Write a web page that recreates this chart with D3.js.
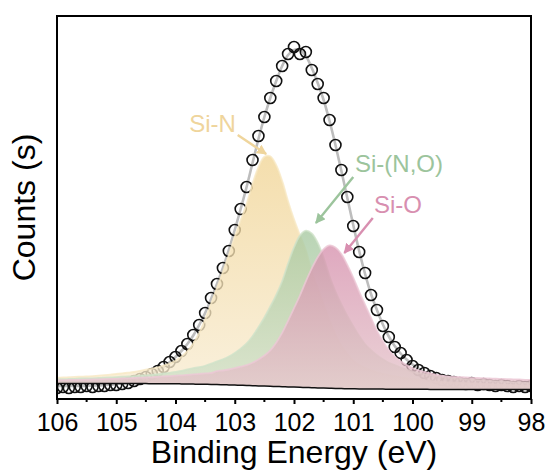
<!DOCTYPE html>
<html>
<head>
<meta charset="utf-8">
<script src="https://cdn.jsdelivr.net/npm/d3@7"></script>
<style>
  html, body { margin: 0; padding: 0; background: #fff; }
  svg { display: block; }
  text { font-family: "Liberation Sans", Arial, sans-serif; }
</style>
</head>
<body>
<div id="chart"></div>
<script>
// Binding energy grid (eV), 106 -> 98 in 0.1 eV steps
const energies = d3.range(0, 81).map(i => +(106 - i * 0.1).toFixed(1));

// Measured counts (arbitrary units)
const counts = [
  11, 12, 11, 12, 12, 13, 12, 13, 13, 14,
  14, 15, 16, 18, 20, 22, 25, 28, 32, 37,
  42, 48, 55, 64, 74, 86, 101, 115, 131, 148,
  169, 190, 212, 239, 263, 282, 301, 318, 333, 345,
  352, 345, 347, 329, 315, 301, 279, 254, 229, 202,
  173, 147, 126, 104, 89, 73, 62, 52, 46, 39,
  33, 29, 26, 23, 21, 19, 18, 17, 16, 15,
  16, 14, 15, 14, 13, 14, 13, 12, 13, 12, 13
];

// Fitted envelope
const envelope = [
  13, 13, 13, 13, 13, 13.2, 13.4, 13.6, 13.9, 14.3,
  14.8, 15.5, 16.5, 18, 20, 22.5, 25.3, 28.5, 32.3, 36.8,
  42, 48, 55, 63.5, 74, 86, 100, 115, 131, 149,
  169, 190, 212, 236, 260, 282, 301, 318, 333, 344,
  349, 349, 343, 331, 316, 299, 278, 254, 228, 201,
  174, 148, 125, 105, 89, 74.5, 62.5, 53, 45.5, 39.5,
  34.5, 30.5, 27, 24.3, 22, 20.2, 18.8, 17.7, 16.8, 16.1,
  15.5, 15, 14.6, 14.3, 14, 13.8, 13.6, 13.4, 13.3, 13.2, 13.1
];

// Shirley background
const background = [
  15.6, 15.6, 15.6, 15.6, 15.6, 15.6, 15.5, 15.5, 15.5, 15.5,
  15.5, 15.5, 15.4, 15.4, 15.4, 15.4, 15.3, 15.3, 15.3, 15.2,
  15.2, 15.1, 15.0, 14.9, 14.8, 14.7, 14.6, 14.5, 14.3, 14.1,
  13.9, 13.7, 13.5, 13.3, 13.1, 12.9, 12.7, 12.5, 12.3, 12.1,
  11.9, 11.7, 11.5, 11.3, 11.1, 10.9, 10.7, 10.5, 10.4, 10.3,
  10.2, 10.1, 10.0, 10.0, 9.9, 9.9, 9.8, 9.8, 9.8, 9.7,
  9.7, 9.7, 9.7, 9.6, 9.6, 9.6, 9.6, 9.6, 9.6, 9.6,
  9.6, 9.5, 9.5, 9.5, 9.5, 9.5, 9.5, 9.5, 9.5, 9.5, 9.5
];

// Component: Si-N
const siN = [
  21.3, 21.5, 21.8, 22.1, 22.3, 22.5, 22.9, 23.4, 23.8, 24.3,
  25.0, 25.7, 26.3, 27.0, 28.1, 29.3, 30.3, 31.7, 33.5, 35.5,
  38.3, 42.4, 47.8, 55.6, 66.1, 79.6, 95.0, 111.1, 127.0, 143.9,
  162.2, 178.6, 195.1, 215.2, 231.9, 242.3, 242.8, 233.8, 218.1, 197.8,
  179.6, 163.7, 148.7, 127.3, 110.9, 94.5, 78.6, 64.3, 52.9, 45.0,
  38.4, 34.1, 31.0, 28.7, 26.5, 25.1, 23.9, 22.7, 21.6, 20.6,
  19.9, 19.3, 18.7, 18.0, 17.5, 17.0, 16.6, 16.3, 16.1, 15.8,
  15.6, 15.3, 15.0, 14.8, 14.6, 14.4, 14.1, 13.9, 13.7, 13.5, 13.4
];

// Component: Si-(N,O)
const siNO = [
  19.7, 19.8, 20.0, 20.2, 20.5, 20.6, 20.7, 21.0, 21.3, 21.6,
  21.9, 22.3, 22.5, 22.8, 23.3, 23.7, 24.2, 24.9, 25.5, 26.2,
  27.1, 28.1, 29.6, 30.8, 31.8, 33.2, 35.3, 37.6, 39.7, 42.5,
  46.1, 50.4, 55.6, 62.8, 71.7, 81.5, 92.5, 104.2, 117.8, 135.5,
  151.6, 163.4, 168.3, 165.6, 156.3, 141.2, 122.8, 107.5, 94.6, 83.1,
  72.7, 63.0, 54.7, 48.8, 43.8, 39.7, 36.3, 33.8, 31.5, 29.3,
  27.3, 26.0, 24.8, 23.9, 23.1, 22.3, 21.5, 20.7, 20.3, 19.8,
  19.3, 18.9, 18.3, 18.0, 17.7, 17.4, 17.0, 16.7, 16.4, 16.1, 15.8
];

// Component: Si-O
const siO = [
  18.7, 18.9, 19.0, 19.2, 19.2, 19.3, 19.5, 19.6, 19.9, 20.1,
  20.2, 20.5, 20.7, 21.0, 21.3, 21.5, 21.7, 22.2, 22.6, 22.9,
  23.4, 23.7, 24.2, 24.6, 25.1, 25.6, 26.0, 27.9, 28.5, 29.5,
  30.8, 32.3, 33.9, 36.3, 39.6, 43.5, 48.7, 56.3, 66.1, 78.2,
  90.8, 103.5, 117.6, 130.6, 141.8, 149.9, 153.6, 151.5, 145.1, 134.1,
  121.5, 107.3, 94.1, 81.2, 68.2, 57.7, 48.7, 42.4, 37.8, 34.0,
  31.0, 28.7, 27.1, 25.7, 24.2, 23.3, 22.6, 22.2, 21.9, 21.6,
  21.3, 21.0, 20.8, 20.5, 20.4, 20.1, 19.8, 19.7, 19.5, 19.2, 19.1
];

const xTicks = [106, 105, 104, 103, 102, 101, 100, 99, 98];
const xMinorTicks = [105.5, 104.5, 103.5, 102.5, 101.5, 100.5, 99.5, 98.5];

const components = [
  { name: "Si-N",     values: siN,  top: "#f1d596", bottom: "#f8ecd2", rim: "#f8e8c4", text: "#efd59c",
    label: [103.77, 267], arrow: [[102.95, 264], [102.47, 245]] },
  { name: "Si-(N,O)", values: siNO, top: "#a6c8a0", bottom: "#d3e2cb", rim: "#cfe2c9", text: "#9cc49c",
    label: [100.97, 227], arrow: [[101.0, 222], [101.63, 176]] },
  { name: "Si-O",     values: siO,  top: "#d690ad", bottom: "#e5c6cb", rim: "#ecc8d6", text: "#d88fb0",
    label: [100.65, 186], arrow: [[100.67, 181], [101.15, 146]] }
];

const W = 549, H = 472;
const plot = { left: 57, right: 531, top: 16, bottom: 399 };

const x = d3.scaleLinear().domain([106, 98]).range([plot.left, plot.right]);
const y = d3.scaleLinear().domain([0, 383]).range([plot.bottom, plot.top]);

const svg = d3.select("#chart").append("svg").attr("width", W).attr("height", H);
const defs = svg.append("defs");
defs.append("clipPath").attr("id", "clip")
  .append("rect").attr("x", plot.left).attr("y", plot.top)
  .attr("width", plot.right - plot.left).attr("height", plot.bottom - plot.top);

components.forEach((c, k) => {
  const g = defs.append("linearGradient").attr("id", "grad" + k)
    .attr("gradientUnits", "userSpaceOnUse")
    .attr("x1", 0).attr("x2", 0)
    .attr("y1", y(d3.max(c.values))).attr("y2", y(10));
  g.append("stop").attr("offset", "0%").attr("stop-color", c.top);
  g.append("stop").attr("offset", "100%").attr("stop-color", c.bottom);
});

// arrow markers
components.forEach((c, k) => {
  defs.append("marker").attr("id", "arr" + k)
    .attr("viewBox", "0 0 10 10").attr("refX", 9).attr("refY", 5)
    .attr("markerWidth", 4.2).attr("markerHeight", 4.2)
    .attr("markerUnits", "strokeWidth")
    .attr("orient", "auto")
    .append("path").attr("d", "M0,0 L10,5 L0,10 z").attr("fill", c.text);
});

const pts = energies.map((e, i) => i);
const plotG = svg.append("g").attr("clip-path", "url(#clip)");

// envelope line
plotG.append("path")
  .attr("d", d3.line().x(i => x(energies[i])).y(i => y(envelope[i])).curve(d3.curveCatmullRom)(pts))
  .attr("fill", "none").attr("stroke", "#bdbdbd").attr("stroke-width", 2.6);

// data circles
plotG.selectAll("circle.pt").data(pts).join("circle")
  .attr("class", "pt")
  .attr("cx", i => x(energies[i])).attr("cy", i => y(counts[i]))
  .attr("r", 5.5)
  .attr("fill", "none").attr("stroke", "#111").attr("stroke-width", 1.6);

// component fills
components.forEach((c, k) => {
  const area = d3.area()
    .x(i => x(energies[i]))
    .y0(i => y(background[i]))
    .y1(i => y(c.values[i]))
    .curve(d3.curveCatmullRom);
  plotG.append("path").attr("d", area(pts))
    .attr("fill", "url(#grad" + k + ")").attr("fill-opacity", 0.78)
    .attr("stroke", "none");
  const topLine = d3.line().x(i => x(energies[i])).y(i => y(c.values[i])).curve(d3.curveCatmullRom);
  plotG.append("path").attr("d", topLine(pts))
    .attr("fill", "none").attr("stroke", c.rim).attr("stroke-width", 1.8).attr("stroke-opacity", 0.8);
});

// background line
plotG.append("path")
  .attr("d", d3.line().x(i => x(energies[i])).y(i => y(background[i])).curve(d3.curveCatmullRom)(pts))
  .attr("fill", "none").attr("stroke", "#111").attr("stroke-width", 1.5);

// frame
svg.append("rect")
  .attr("x", plot.left).attr("y", plot.top)
  .attr("width", plot.right - plot.left).attr("height", plot.bottom - plot.top)
  .attr("fill", "none").attr("stroke", "#000").attr("stroke-width", 2);

// bottom axis
const axisG = svg.append("g").attr("transform", `translate(0,${plot.bottom})`)
  .call(d3.axisBottom(x).tickValues(xTicks).tickSize(5).tickFormat(d3.format("d")));
axisG.select(".domain").remove();
axisG.selectAll(".tick line").attr("stroke", "#000").attr("stroke-width", 2);
axisG.selectAll(".tick text")
  .attr("y", 32).attr("dy", 0)
  .attr("font-size", 25).attr("fill", "#000")
  .style("font-family", "'Liberation Sans', Arial, sans-serif");
svg.append("g").attr("transform", `translate(0,${plot.bottom})`)
  .selectAll("line").data(xMinorTicks).join("line")
  .attr("x1", d => x(d)).attr("x2", d => x(d))
  .attr("y1", 0).attr("y2", 3).attr("stroke", "#000").attr("stroke-width", 2);

// axis titles
svg.append("text")
  .attr("x", (plot.left + plot.right) / 2).attr("y", 463)
  .attr("text-anchor", "middle").attr("font-size", 32).attr("fill", "#000")
  .text("Binding Energy (eV)");
svg.append("text")
  .attr("transform", `translate(35,${(plot.top + plot.bottom) / 2}) rotate(-90)`)
  .attr("text-anchor", "middle").attr("font-size", 32).attr("fill", "#000")
  .text("Counts (s)");

// annotations
components.forEach((c, k) => {
  svg.append("text")
    .attr("x", x(c.label[0])).attr("y", y(c.label[1]))
    .attr("font-size", 24).attr("fill", c.text)
    .text(c.name);
  svg.append("line")
    .attr("x1", x(c.arrow[0][0])).attr("y1", y(c.arrow[0][1]))
    .attr("x2", x(c.arrow[1][0])).attr("y2", y(c.arrow[1][1]))
    .attr("stroke", c.text).attr("stroke-width", 2.4)
    .attr("marker-end", "url(#arr" + k + ")");
});
</script>
</body>
</html>
